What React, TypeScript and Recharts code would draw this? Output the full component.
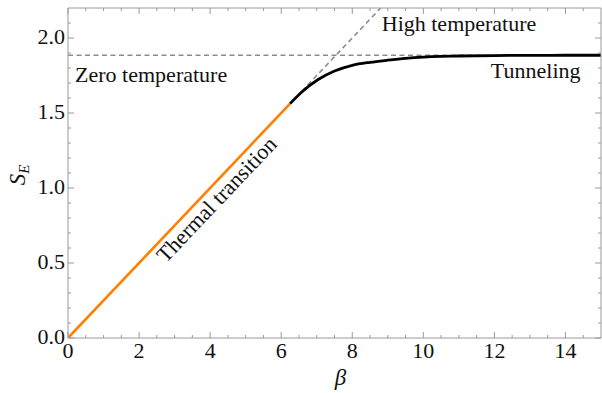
import React from "react";
import { LineChart, Line, XAxis, YAxis, ReferenceDot } from "recharts";

// S_E versus beta: thermal branch, tunneling branch and the two asymptotes
const thermalBeta = [0, 6.25];
const thermalS = [0, 1.5625];
const tunnelBeta = [6.25, 6.58, 7.04, 7.5, 8, 8.5, 9, 9.5, 10, 10.5, 11, 12, 13, 14, 15];
const tunnelS = [1.5625, 1.64, 1.723, 1.78, 1.818, 1.838, 1.852, 1.864, 1.872, 1.877, 1.88, 1.883, 1.884, 1.885, 1.885];
const highTempBeta = [6.25, 8.8];
const highTempS = [1.5625, 2.2];
const zeroTempBeta = [0, 15];
const zeroTempS = [1.885, 1.885];

const xMajor = [0, 2, 4, 6, 8, 10, 12, 14];
const xTicks = [0, 0.5, 1, 1.5, 2, 2.5, 3, 3.5, 4, 4.5, 5, 5.5, 6, 6.5, 7, 7.5, 8, 8.5, 9, 9.5, 10, 10.5, 11, 11.5, 12, 12.5, 13, 13.5, 14, 14.5];
const yMajor = [0, 0.5, 1, 1.5, 2];
const yTicks = [0, 0.1, 0.2, 0.3, 0.4, 0.5, 0.6, 0.7, 0.8, 0.9, 1, 1.1, 1.2, 1.3, 1.4, 1.5, 1.6, 1.7, 1.8, 1.9, 2, 2.1];

const zip = (xs: number[], ys: number[]) => xs.map((beta, i) => ({ beta, s: ys[i] }));
const thermal = zip(thermalBeta, thermalS);
const tunnel = zip(tunnelBeta, tunnelS);
const highTemp = zip(highTempBeta, highTempS);
const zeroTemp = zip(zeroTempBeta, zeroTempS);

const FONT = '"Liberation Serif", "Times New Roman", serif';
const AXIS = "#9a9a9a";
const TEXT = "#111";
const DASH = "#8c8c8c";

function BottomTick({ x, y, payload }: any) {
  const major = xMajor.includes(payload.value);
  return (
    <g>
      <line x1={x} x2={x} y1={y} y2={y - (major ? 6 : 3)} stroke={AXIS} />
      {major && (
        <text x={x} y={y + 20} textAnchor="middle" fontSize={22} fontFamily={FONT} fill={TEXT}>
          {payload.value}
        </text>
      )}
    </g>
  );
}

function TopTick({ x, y, payload }: any) {
  const major = xMajor.includes(payload.value);
  return <line x1={x} x2={x} y1={y} y2={y + (major ? 6 : 3)} stroke={AXIS} />;
}

function LeftTick({ x, y, payload }: any) {
  const major = yMajor.includes(payload.value);
  return (
    <g>
      <line x1={x} x2={x + (major ? 6 : 3)} y1={y} y2={y} stroke={AXIS} />
      {major && (
        <text x={x - 3} y={y + 6} textAnchor="end" fontSize={22} fontFamily={FONT} fill={TEXT}>
          {payload.value.toFixed(1)}
        </text>
      )}
    </g>
  );
}

function RightTick({ x, y, payload }: any) {
  const major = yMajor.includes(payload.value);
  return <line x1={x} x2={x - (major ? 6 : 3)} y1={y} y2={y} stroke={AXIS} />;
}

const note = (text: string, angle = 0, anchor = "start") => (props: any) => {
  const { x, y } = props.viewBox;
  return (
    <text
      x={x}
      y={y}
      textAnchor={anchor}
      fontSize={22}
      fontFamily={FONT}
      fill={TEXT}
      transform={angle ? `rotate(${angle} ${x} ${y})` : undefined}
    >
      {text}
    </text>
  );
};

export default function App() {
  return (
    <div style={{ position: "absolute", left: 0, top: 0, width: 602, height: 393, background: "#fff" }}>
      <LineChart width={602} height={393} margin={{ top: 0, right: 0, bottom: 0, left: 0 }}>
        <XAxis
          xAxisId="main"
          dataKey="beta"
          type="number"
          domain={[0, 15]}
          allowDataOverflow
          ticks={xTicks}
          interval={0}
          height={55}
          tickSize={0}
          tickMargin={0}
          tick={<BottomTick />}
          axisLine={{ stroke: AXIS }}
          label={(p: any) => (
            <text
              x={p.viewBox.x + p.viewBox.width / 2 + 6}
              y={p.viewBox.y + 47}
              textAnchor="middle"
              fontSize={23}
              fontStyle="italic"
              fontFamily={FONT}
              fill={TEXT}
            >
              β
            </text>
          )}
        />
        <XAxis
          xAxisId="top"
          orientation="top"
          dataKey="beta"
          type="number"
          domain={[0, 15]}
          allowDataOverflow
          ticks={xTicks}
          interval={0}
          height={8}
          tickSize={0}
          tickMargin={0}
          tick={<TopTick />}
          axisLine={{ stroke: AXIS }}
        />
        <YAxis
          yAxisId="main"
          type="number"
          domain={[0, 2.2]}
          allowDataOverflow
          ticks={yTicks}
          interval={0}
          width={68}
          tickSize={0}
          tickMargin={0}
          tick={<LeftTick />}
          axisLine={{ stroke: AXIS }}
          label={(p: any) => {
            const cx = 25;
            const cy = p.viewBox.y + p.viewBox.height / 2 + 2;
            return (
              <text
                x={cx}
                y={cy}
                textAnchor="middle"
                fontSize={23}
                fontFamily={FONT}
                fill={TEXT}
                transform={`rotate(-90 ${cx} ${cy})`}
              >
                <tspan fontStyle="italic">S</tspan>
                <tspan fontStyle="italic" fontSize={15} dy={4}>E</tspan>
              </text>
            );
          }}
        />
        <YAxis
          yAxisId="right"
          orientation="right"
          type="number"
          domain={[0, 2.2]}
          allowDataOverflow
          ticks={yTicks}
          interval={0}
          width={1}
          tickSize={0}
          tickMargin={0}
          tick={<RightTick />}
          axisLine={{ stroke: AXIS }}
        />

        <Line
          xAxisId="main"
          yAxisId="main"
          data={zeroTemp}
          dataKey="s"
          type="linear"
          stroke={DASH}
          strokeWidth={1.6}
          strokeDasharray="5 3.5"
          dot={false}
          activeDot={false}
          isAnimationActive={false}
        />
        <Line
          xAxisId="main"
          yAxisId="main"
          data={highTemp}
          dataKey="s"
          type="linear"
          stroke={DASH}
          strokeWidth={1.6}
          strokeDasharray="5 3.5"
          dot={false}
          activeDot={false}
          isAnimationActive={false}
        />
        <Line
          xAxisId="main"
          yAxisId="main"
          data={thermal}
          dataKey="s"
          type="linear"
          stroke="#ff8000"
          strokeWidth={2.6}
          dot={false}
          activeDot={false}
          isAnimationActive={false}
        />
        <Line
          xAxisId="main"
          yAxisId="main"
          data={tunnel}
          dataKey="s"
          type="monotone"
          stroke="#000"
          strokeWidth={2.8}
          dot={false}
          activeDot={false}
          isAnimationActive={false}
        />

        <ReferenceDot xAxisId="main" yAxisId="main" x={0.2} y={1.709} r={0} fill="none" stroke="none" label={note("Zero temperature")} />
        <ReferenceDot xAxisId="main" yAxisId="main" x={8.83} y={2.047} r={0} fill="none" stroke="none" label={note("High temperature")} />
        <ReferenceDot xAxisId="main" yAxisId="main" x={11.9} y={1.735} r={0} fill="none" stroke="none" label={note("Tunneling")} />
        <ReferenceDot xAxisId="main" yAxisId="main" x={4.33} y={0.89} r={0} fill="none" stroke="none" label={note("Thermal transition", -46.5, "middle")} />
      </LineChart>
    </div>
  );
}
